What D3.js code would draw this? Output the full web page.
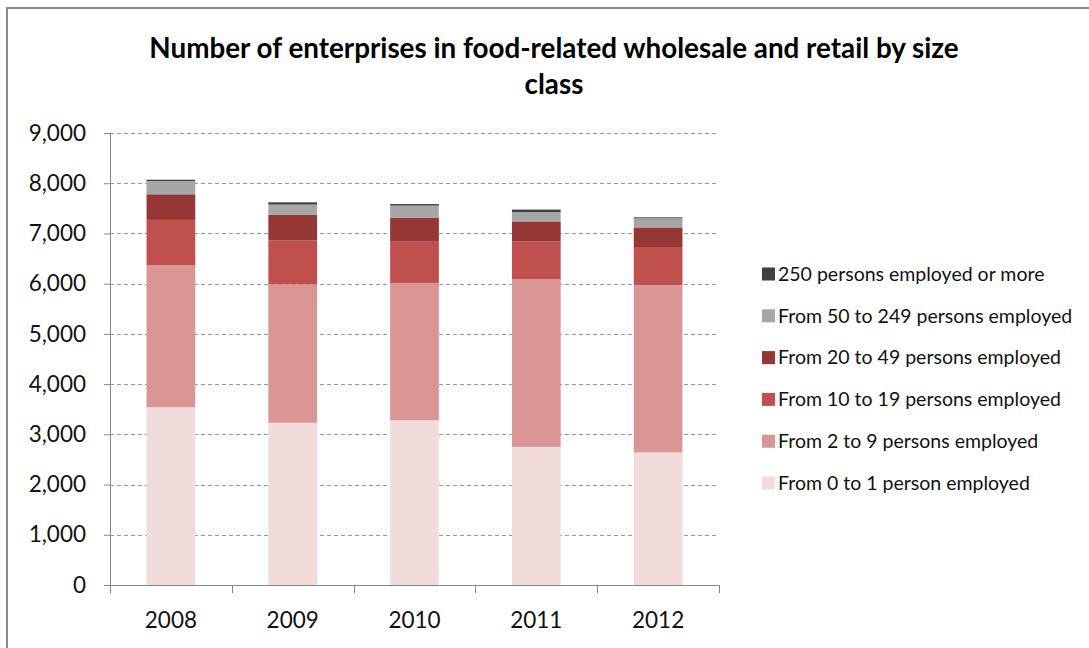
<!DOCTYPE html>
<html>
<head>
<meta charset="utf-8">
<script src="https://cdn.jsdelivr.net/npm/d3@7"></script>
<style>
  html, body { margin: 0; padding: 0; background: #fff; }
  svg { display: block; }
  text { font-family: Lato, "Open Sans", sans-serif; fill: #111; }
</style>
</head>
<body>
<svg id="chart" width="1089" height="648"></svg>
<script>
// Years on the category axis
const years = ["2008", "2009", "2010", "2011", "2012"];

// Enterprises per size class, one value per year
const size0to1   = [3540, 3230, 3280, 2750, 2640];
const size2to9   = [2830, 2760, 2735, 3340, 3330];
const size10to19 = [900, 870, 820, 750, 760];
const size20to49 = [510, 510, 480, 400, 390];
const size50to249 = [265, 205, 240, 185, 180];
const size250plus = [25, 45, 30, 50, 20];

// Series in stacking order (bottom to top)
const seriesNames = [
  "From 0 to 1 person employed",
  "From 2 to 9 persons employed",
  "From 10 to 19 persons employed",
  "From 20 to 49 persons employed",
  "From 50 to 249 persons employed",
  "250 persons employed or more"
];
const seriesValues = [size0to1, size2to9, size10to19, size20to49, size50to249, size250plus];
const seriesColors = ["#F2DCDB", "#D99694", "#C0504D", "#953735", "#A6A6A6", "#404040"];

// Value axis ticks
const yTicks = [0, 1000, 2000, 3000, 4000, 5000, 6000, 7000, 8000, 9000];

const svg = d3.select("#chart");

// Outer chart frame
svg.append("rect")
  .attr("x", 7).attr("y", 8)
  .attr("width", 1100).attr("height", 700)
  .attr("fill", "none")
  .attr("stroke", "#8a8a8a")
  .attr("stroke-width", 2);

// Title, two lines
const title = svg.append("text")
  .attr("text-anchor", "middle")
  .style("font-weight", "bold")
  .style("font-size", "27.8px")
  .style("fill", "#000");
title.append("tspan").attr("x", 554).attr("y", 58)
  .text("Number of enterprises in food-related wholesale and retail by size");
title.append("tspan").attr("x", 554).attr("y", 94).text("class");

const plot = { left: 110, right: 719, top: 133, bottom: 585 };

const x = d3.scaleBand()
  .domain(years)
  .range([plot.left, plot.right])
  .paddingInner(0.6)
  .paddingOuter(0.3);

const y = d3.scaleLinear()
  .domain([0, 9000])
  .range([plot.bottom, plot.top]);

// Dashed horizontal gridlines
svg.append("g")
  .selectAll("line")
  .data(yTicks.filter(d => d > 0))
  .join("line")
  .attr("x1", plot.left).attr("x2", plot.right)
  .attr("y1", d => Math.round(y(d)) + 0.5)
  .attr("y2", d => Math.round(y(d)) + 0.5)
  .attr("stroke", "#9a9a9a")
  .attr("stroke-width", 1.2)
  .attr("stroke-dasharray", "4,3");

// Stacked bars
const table = years.map((yr, i) => {
  const row = { year: yr };
  seriesNames.forEach((n, k) => { row[n] = seriesValues[k][i]; });
  return row;
});
const stacked = d3.stack().keys(seriesNames)(table);

svg.append("g")
  .selectAll("g")
  .data(stacked)
  .join("g")
  .attr("fill", (d, i) => seriesColors[i])
  .selectAll("rect")
  .data(d => d)
  .join("rect")
  .attr("x", d => x(d.data.year))
  .attr("width", x.bandwidth())
  .attr("y", d => y(d[1]))
  .attr("height", d => y(d[0]) - y(d[1]));

// Value axis
const yAxis = svg.append("g")
  .attr("transform", `translate(${plot.left},0)`)
  .call(d3.axisLeft(y)
    .tickValues(yTicks)
    .tickFormat(d3.format(","))
    .tickSize(6)
    .tickPadding(18));
yAxis.select(".domain").attr("stroke", "#868686");
yAxis.selectAll(".tick line").attr("stroke", "#868686");
yAxis.selectAll(".tick text")
  .style("font-size", "22.5px")
  .style("fill", "#111")
  .attr("font-family", null);

// Category axis with boundary ticks between years
const xAxisG = svg.append("g").attr("transform", `translate(0,${plot.bottom})`);
xAxisG.append("line")
  .attr("x1", plot.left).attr("x2", plot.right)
  .attr("y1", 0.5).attr("y2", 0.5)
  .attr("stroke", "#868686");
const bounds = d3.range(years.length + 1).map(i => plot.left + (plot.right - plot.left) * i / years.length);
xAxisG.selectAll("line.tick")
  .data(bounds)
  .join("line")
  .attr("class", "tick")
  .attr("x1", d => Math.round(d) + 0.5).attr("x2", d => Math.round(d) + 0.5)
  .attr("y1", 0).attr("y2", 8)
  .attr("stroke", "#868686");
xAxisG.selectAll("text")
  .data(years)
  .join("text")
  .attr("x", d => x(d) + x.bandwidth() / 2)
  .attr("y", 43)
  .attr("text-anchor", "middle")
  .style("font-size", "22.5px")
  .text(d => d);

// Legend, largest class on top
const legend = svg.append("g");
const legendItems = seriesNames.map((n, i) => ({ name: n, color: seriesColors[i] })).reverse();
const li = legend.selectAll("g")
  .data(legendItems)
  .join("g")
  .attr("transform", (d, i) => `translate(762,${274 + i * 41.8})`);
li.append("rect")
  .attr("x", 0).attr("y", -6.5)
  .attr("width", 13).attr("height", 13)
  .attr("fill", d => d.color);
li.append("text")
  .attr("x", 16).attr("y", 0)
  .attr("dy", "0.35em")
  .style("font-size", "19.5px")
  .text(d => d.name);
</script>
</body>
</html>
